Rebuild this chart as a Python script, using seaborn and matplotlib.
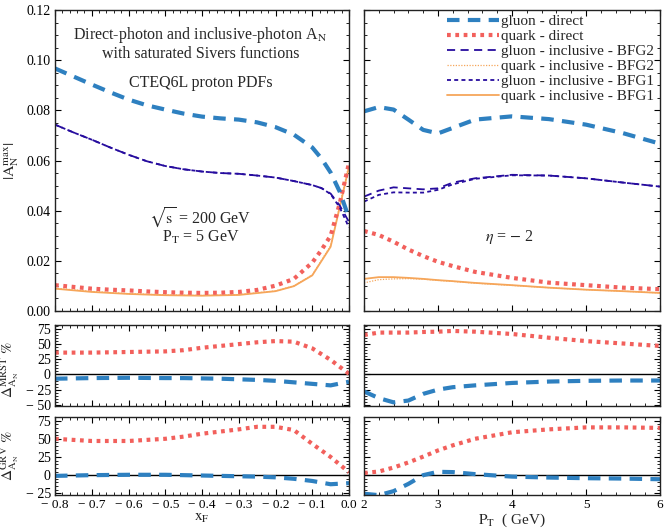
import numpy as np
import pandas as pd
import matplotlib
matplotlib.use("Agg")
import matplotlib.pyplot as plt
from matplotlib.ticker import MultipleLocator, AutoMinorLocator, FuncFormatter
import seaborn as sns

sns.set_theme(style="ticks")
plt.rcParams['font.family'] = ['Liberation Serif', 'DejaVu Serif']
plt.rcParams['mathtext.fontset'] = 'stix'

# ---------------- data ----------------
xF = [-0.8, -0.75, -0.7, -0.65, -0.6, -0.55, -0.5, -0.45, -0.4, -0.35, -0.3, -0.25,
      -0.2, -0.15, -0.1, -0.075, -0.05, -0.025, 0.0]
xf_gluon_direct = [0.0967, 0.0935, 0.0903, 0.0872, 0.0843, 0.0820, 0.0803, 0.0787, 0.0775,
                   0.0768, 0.0763, 0.0752, 0.0733, 0.0703, 0.0652, 0.0608, 0.0552, 0.0475, 0.0370]
xf_quark_direct = [0.0103, 0.0096, 0.0089, 0.0085, 0.0082, 0.0078, 0.0075, 0.0073, 0.0072,
                   0.0073, 0.0076, 0.0084, 0.0101, 0.0128, 0.0193, 0.0243, 0.0300, 0.0430, 0.0590]
xf_gluon_bfg2 = [0.0743, 0.0712, 0.0683, 0.0652, 0.0623, 0.0597, 0.0578, 0.0565, 0.0556,
                 0.0550, 0.0547, 0.0540, 0.0532, 0.0518, 0.0502, 0.0490, 0.0468, 0.0420, 0.0355]
xf_gluon_bfg1 = [0.0743, 0.0712, 0.0683, 0.0652, 0.0623, 0.0597, 0.0578, 0.0565, 0.0556,
                 0.0550, 0.0547, 0.0540, 0.0532, 0.0518, 0.0502, 0.0490, 0.0466, 0.0412, 0.0333]
xF_q = [-0.8, -0.7, -0.6, -0.5, -0.4, -0.3, -0.2, -0.15, -0.1, -0.05, 0.0]
xf_quark_bfg1 = [0.0089, 0.0076, 0.0068, 0.0063, 0.0061, 0.0064, 0.0079, 0.0099, 0.0142, 0.0256, 0.0575]
xf_quark_bfg2 = [0.0091, 0.0078, 0.0069, 0.0064, 0.0062, 0.0065, 0.0080, 0.0100, 0.0144, 0.0260, 0.0585]

PT = [2.0, 2.2, 2.4, 2.6, 2.8, 3.0, 3.2, 3.5, 4.0, 4.5, 5.0, 5.5, 6.0]
pt_gluon_direct = [0.0796, 0.0813, 0.0803, 0.0763, 0.0722, 0.0708, 0.0730, 0.0763, 0.0776,
                   0.0765, 0.0743, 0.0709, 0.0667]
pt_quark_direct = [0.0319, 0.0303, 0.0276, 0.0245, 0.0219, 0.0196, 0.0179, 0.0156, 0.0132,
                   0.0113, 0.0103, 0.0093, 0.0087]
pt_gluon_bfg2 = [0.0456, 0.0480, 0.0493, 0.0489, 0.0485, 0.0489, 0.0512, 0.0529, 0.0543,
                 0.0540, 0.0529, 0.0512, 0.0496]
pt_gluon_bfg1 = [0.0436, 0.0463, 0.0473, 0.0472, 0.0472, 0.0483, 0.0505, 0.0527, 0.0541,
                 0.0540, 0.0529, 0.0512, 0.0496]
pt_quark_bfg1 = [0.0128, 0.0135, 0.0135, 0.0132, 0.0128, 0.0123, 0.0119, 0.0112, 0.0103,
                 0.0093, 0.0085, 0.0079, 0.0072]
pt_quark_bfg2 = [0.0112, 0.0125, 0.0128, 0.0129, 0.0127, 0.0122, 0.0118, 0.0111, 0.0102,
                 0.0093, 0.0085, 0.0079, 0.0072]

xF_d = [-0.8, -0.7, -0.6, -0.5, -0.45, -0.4, -0.35, -0.3, -0.25, -0.2, -0.15, -0.1, -0.05, 0.0]
mrst_xf_quark = [36, 36, 37, 38, 40, 44, 47, 50, 53, 55, 54, 43, 24, 1]
mrst_xf_gluon = [-7, -6, -5.5, -6, -6, -6.5, -7, -8, -9, -10.5, -13, -15.5, -18, -12]
grv_xf_quark = [50, 47, 47, 50, 53, 57, 60, 63, 66.5, 66.5, 62, 43, 25, 4]
grv_xf_gluon = [-1, 0, 0.5, 0.5, 0, -0.5, -1, -1.5, -2, -3, -5, -8, -12.5, -11]

mrst_pt_quark = [65, 69, 69, 69, 70, 70.5, 71.7, 70.5, 66.7, 60.5, 55, 51, 47]
mrst_pt_gluon = [-28, -39, -46, -43, -32, -25, -21, -18, -14, -11.7, -10.5, -10, -10]
grv_pt_quark = [3, 5, 10.5, 17.5, 25.5, 34, 41, 50, 59, 63, 65.7, 65.7, 65]
grv_pt_gluon = [-25.6, -27.5, -22, -12, 0, 4.6, 4.2, 1.4, -2, -3.3, -4.2, -4.7, -5.6]

labels = ["gluon - direct", "quark - direct", "gluon - inclusive - BFG2",
          "quark - inclusive - BFG2", "gluon - inclusive - BFG1", "quark - inclusive - BFG1"]

C_BLUE = "#2e80c0"
C_RED = "#f2605c"
C_NAVY = "#260c9e"
C_ORANGE = "#f6a65a"

styles = {
    labels[0]: dict(color=C_BLUE, lw=3.0, dashes=(3.0, 2.0)),
    labels[1]: dict(color=C_RED, lw=3.0, dashes=(0.9, 1.1)),
    labels[2]: dict(color=C_NAVY, lw=1.3, dashes=(4.5, 3.0)),
    labels[3]: dict(color=C_ORANGE, lw=0.9, dashes=(1.0, 1.2)),
    labels[4]: dict(color=C_NAVY, lw=1.3, dashes=(2.2, 1.8)),
    labels[5]: dict(color=C_ORANGE, lw=1.3, dashes=None),
}

# ---------------- figure ----------------
fig = plt.figure(figsize=(6.64, 5.28), dpi=100)
W, H = 664.0, 528.0
def box(x0, y0, x1, y1):
    return [x0 / W, 1 - y1 / H, (x1 - x0) / W, (y1 - y0) / H]

ax_tl = fig.add_axes(box(55, 10, 349, 311))
ax_tr = fig.add_axes(box(364, 10, 660, 311))
ax_ml = fig.add_axes(box(55, 325, 349, 406))
ax_mr = fig.add_axes(box(364, 325, 660, 406))
ax_bl = fig.add_axes(box(55, 417, 349, 495))
ax_br = fig.add_axes(box(364, 417, 660, 495))

def draw(ax, x, y, key, label=None):
    st = styles[key]
    sns.lineplot(x=x, y=y, ax=ax, color=st["color"], linewidth=st["lw"],
                 label=label, legend=False, sort=False)
    ln = ax.lines[-1]
    if st["dashes"] is not None:
        ln.set_dashes(st["dashes"])
    ln.set_dash_capstyle("butt")
    return ln

# top left
draw(ax_tl, xF_q, xf_quark_bfg1, labels[5])
draw(ax_tl, xF_q, xf_quark_bfg2, labels[3])
draw(ax_tl, xF, xf_quark_direct, labels[1])
draw(ax_tl, xF, xf_gluon_bfg1, labels[4])
draw(ax_tl, xF, xf_gluon_bfg2, labels[2])
draw(ax_tl, xF, xf_gluon_direct, labels[0])

# top right
handles = {}
handles[labels[5]] = draw(ax_tr, PT, pt_quark_bfg1, labels[5])
handles[labels[3]] = draw(ax_tr, PT, pt_quark_bfg2, labels[3])
handles[labels[1]] = draw(ax_tr, PT, pt_quark_direct, labels[1])
handles[labels[4]] = draw(ax_tr, PT, pt_gluon_bfg1, labels[4])
handles[labels[2]] = draw(ax_tr, PT, pt_gluon_bfg2, labels[2])
handles[labels[0]] = draw(ax_tr, PT, pt_gluon_direct, labels[0])

# ratio panels
for ax, xx, q, g in [(ax_ml, xF_d, mrst_xf_quark, mrst_xf_gluon),
                     (ax_bl, xF_d, grv_xf_quark, grv_xf_gluon),
                     (ax_mr, PT, mrst_pt_quark, mrst_pt_gluon),
                     (ax_br, PT, grv_pt_quark, grv_pt_gluon)]:
    ax.axhline(0, color="black", lw=1.0, zorder=1)
    draw(ax, xx, q, labels[1])
    draw(ax, xx, g, labels[0])

leg = ax_tr.legend([handles[l] for l in labels], labels, loc="upper right",
                   frameon=False, fontsize=11, handlelength=3.4, handletextpad=0.15,
                   labelspacing=0.08, borderaxespad=0.0, borderpad=0.3,
                   bbox_to_anchor=(0.995, 1.0))

def minus_fmt(fmt):
    def f(v, pos):
        s = fmt.format(v)
        if s.startswith("-"):
            s = "\u2212 " + s[1:]
        return s
    return FuncFormatter(f)

for ax in [ax_tl, ax_ml, ax_bl]:
    ax.set_xlim(-0.8, 0.0)
    ax.xaxis.set_major_locator(MultipleLocator(0.1))
    ax.xaxis.set_minor_locator(AutoMinorLocator(5))
for ax in [ax_tr, ax_mr, ax_br]:
    ax.set_xlim(2, 6)
    ax.xaxis.set_major_locator(MultipleLocator(1))
    ax.xaxis.set_minor_locator(AutoMinorLocator(5))

for ax in [ax_tl, ax_tr]:
    ax.set_ylim(0, 0.12)
    ax.yaxis.set_major_locator(MultipleLocator(0.02))
    ax.yaxis.set_minor_locator(AutoMinorLocator(4))
for ax in [ax_ml, ax_mr]:
    ax.set_ylim(-52, 81.5)
    ax.yaxis.set_major_locator(MultipleLocator(25))
    ax.yaxis.set_minor_locator(AutoMinorLocator(5))
for ax in [ax_bl, ax_br]:
    ax.set_ylim(-27.3, 80)
    ax.yaxis.set_major_locator(MultipleLocator(25))
    ax.yaxis.set_minor_locator(AutoMinorLocator(5))

for ax in [ax_tl, ax_tr, ax_ml, ax_mr, ax_bl, ax_br]:
    ax.tick_params(which="both", direction="in", top=True, right=True,
                   labelsize=10, colors="black", pad=3)
    ax.tick_params(which="major", length=4, width=0.8)
    ax.tick_params(which="minor", length=2, width=0.6)
    for sp in ax.spines.values():
        sp.set_linewidth(1.0)
        sp.set_color("#222222")
    ax.set_xlabel("")
    ax.set_ylabel("")

for ax in [ax_bl, ax_br]:
    ax.tick_params(axis="x", which="both", pad=3.2, labelsize=9.5)

for ax in [ax_tl, ax_tr, ax_ml, ax_mr]:
    ax.tick_params(labelbottom=False)
for ax in [ax_tr, ax_mr, ax_br]:
    ax.tick_params(labelleft=False)

ax_tl.yaxis.set_major_formatter(FuncFormatter(lambda v, p: f"{v:.2f}"))
ax_ml.yaxis.set_major_formatter(minus_fmt("{:.0f}"))
ax_bl.yaxis.set_major_formatter(minus_fmt("{:.0f}"))
ax_bl.xaxis.set_major_formatter(minus_fmt("{:.1f}"))
ax_br.xaxis.set_major_formatter(FuncFormatter(lambda v, p: f"{v:.0f}"))

ax_tl.set_ylabel(r"$|\mathrm{A}_\mathrm{N}^{\mathrm{max}}|$", fontsize=11.5)
ax_ml.set_ylabel(r"$\Delta_{\mathrm{A_N}}^{\mathrm{MRST}}\ \%$", fontsize=11)
ax_bl.set_ylabel(r"$\Delta_{\mathrm{A_N}}^{\mathrm{GRV}}\ \%$", fontsize=11)
ax_tl.yaxis.set_label_coords(-0.115, 0.5)
ax_ml.yaxis.set_label_coords(-0.115, 0.45)
ax_bl.yaxis.set_label_coords(-0.115, 0.5)
ax_bl.set_xlabel(r"$\mathrm{x_F}$", fontsize=11, labelpad=0)
ax_br.set_xlabel(r"$\mathrm{P_T}$  ( GeV)", fontsize=11, labelpad=0)

tkw = dict(transform=ax_tl.transAxes, ha="center", va="center", fontsize=11.5)
ax_tl.text(0.495, 0.917, r"Direct-photon and inclusive-photon A$_\mathrm{N}$", **tkw)
ax_tl.text(0.495, 0.854, "with saturated Sivers functions", **tkw)
ax_tl.text(0.495, 0.757, "CTEQ6L proton PDFs", **tkw)
ax_tl.text(0.495, 0.309, r"$\sqrt{\mathrm{s}}$ = 200 GeV", **tkw)
ax_tl.text(0.495, 0.246, r"P$_\mathrm{T}$ = 5 GeV", **tkw)
ax_tr.text(0.49, 0.246, r"$\eta$ = $-$ 2", transform=ax_tr.transAxes,
           ha="center", va="center", fontsize=11.5)

fig.savefig("out.png", dpi=100)
